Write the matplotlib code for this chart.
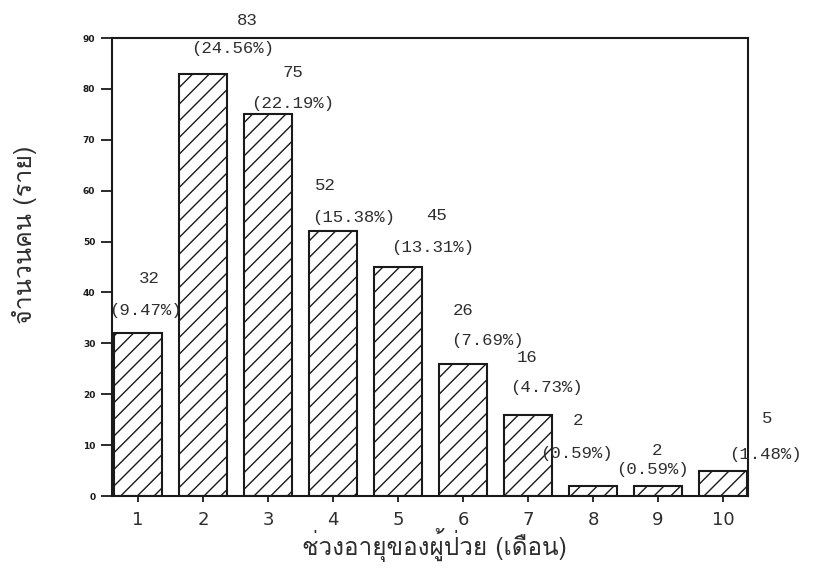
import matplotlib
matplotlib.use("Agg")
import matplotlib.pyplot as plt
from matplotlib import font_manager
from matplotlib.ft2font import FT2Font

# ---------------- data ----------------
age_groups = ["1", "2", "3", "4", "5", "6", "7", "8", "9", "10"]
patients = [32, 83, 75, 52, 45, 26, 16, 2, 2, 5]
y_ticks = [0, 10, 20, 30, 40, 50, 60, 70, 80, 90]
x_label = "ช่วงอายุของผู้ป่วย (เดือน)"
y_label = "จำนวนคน (ราย)"

# label offsets (data units) relative to each bar: count label and percent label
count_offsets = [(0.18, 10.8), (0.68, 10.5), (0.38, 8.3), (-0.12, 9.1), (0.60, 10.2),
                 (0.00, 10.5), (-0.02, 11.3), (-0.23, 12.9), (-0.02, 7.0), (0.68, 10.3)]
pct_offsets = [(0.11, 4.5), (0.46, 5.0), (0.38, 2.2), (0.31, 2.8), (0.54, 3.9),
               (0.37, 4.6), (0.28, 5.4), (-0.25, 6.4), (-0.09, 3.3), (0.65, 3.1)]


def find_thai_font():
    for fe in font_manager.fontManager.ttflist:
        try:
            f = FT2Font(fe.fname)
            cm = f.get_charmap()
            if 0x0E08 in cm and 0x0E27 in cm and 0x0E14 in cm:
                return fe.name
        except Exception:
            continue
    return "DejaVu Sans"


thai = find_thai_font()
ink = "#1a1a1a"
txt = "#2e2e2e"
plt.rcParams["hatch.linewidth"] = 1.0
plt.rcParams["hatch.color"] = ink

fig = plt.figure(figsize=(8.23, 5.74), dpi=100)
ax = fig.add_axes([112 / 823, 1 - 496 / 574, (748 - 112) / 823, (496 - 38) / 574])

xpos = list(range(1, len(patients) + 1))
ax.bar(xpos, patients, width=0.75, color="white", edgecolor=ink, linewidth=1.5,
       hatch="//", zorder=2)

ax.set_xlim(0.6, 10.385)
ax.set_ylim(0, 90)
ax.set_xticks(xpos)
ax.set_xticklabels(age_groups, fontsize=13, color=txt, family="DejaVu Sans")
ax.set_yticks(y_ticks)
ax.set_yticklabels([str(t) for t in y_ticks], fontsize=6.5, fontweight="bold", color=ink)
ax.tick_params(axis="y", direction="out", length=8, width=1.3, pad=4, colors=ink)
ax.tick_params(axis="x", direction="out", length=4, width=1.3, pad=7, colors=ink)
for lab in ax.get_xticklabels():
    lab.set_color(txt)
for s in ax.spines.values():
    s.set_linewidth(1.5)
    s.set_color(ink)

total = sum(patients)
mono = "Liberation Mono"
for i, v in enumerate(patients):
    x = xpos[i]
    cdx, cdy = count_offsets[i]
    pdx, pdy = pct_offsets[i]
    ax.text(x + cdx, v + cdy, str(v), ha="center", va="center", fontsize=12.5,
            family=mono, color=txt, clip_on=False, zorder=3)
    ax.text(x + pdx, v + pdy, f"({v / total * 100:.2f}%)", ha="center", va="center",
            fontsize=12.5, family=mono, color=txt, clip_on=False, zorder=3)

fig.text(434 / 823, 1 - 545 / 574, x_label, ha="center", va="center", fontsize=17.5,
         family=[thai, "DejaVu Sans"], color=txt)
fig.text(25 / 823, 1 - 235 / 574, y_label, ha="center", va="center", rotation=90,
         fontsize=18, family=[thai, "DejaVu Sans"], color=txt)

fig.savefig("out.png", dpi=100, facecolor="white")
